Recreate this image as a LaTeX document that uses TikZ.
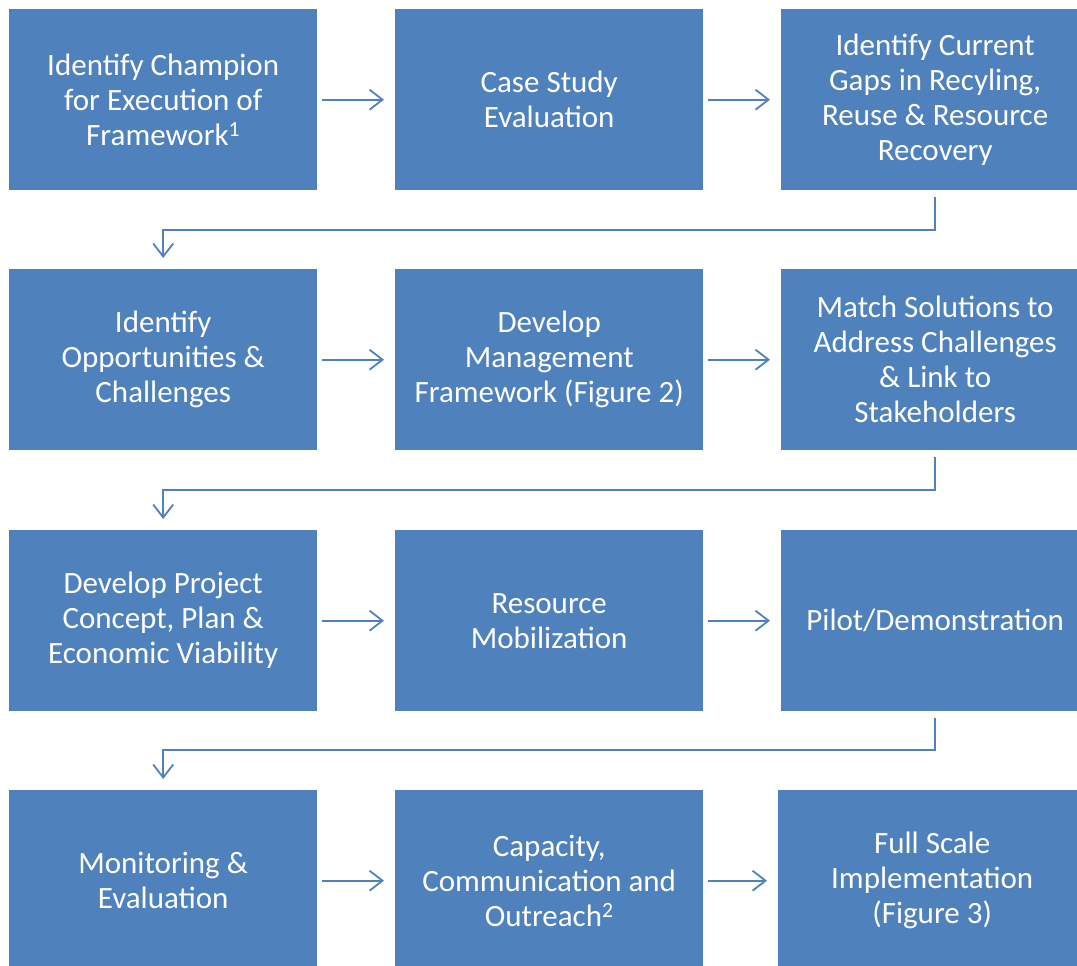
\documentclass[tikz,border=0pt]{standalone}
\usepackage{fontspec}
\setmainfont{Carlito}
\usetikzlibrary{arrows.meta}
\definecolor{boxblue}{HTML}{4F81BD}
\tikzset{
  stepbox/.style={fill=boxblue, draw=none, minimum width=308pt, minimum height=181pt,
    inner sep=0pt, align=center, text=white, font=\fontsize{31}{35}\selectfont, anchor=north west},
  flow/.style={draw=boxblue, line width=1.8pt, -{Straight Barb[length=13pt,width=20pt,line width=1.8pt]}},
}
\begin{document}
\begin{tikzpicture}[x=1pt,y=-1pt]
\useasboundingbox (0,0) rectangle (1077,966);
\clip (0,0) rectangle (1077,966);
% row 1
\node[stepbox] (a1) at (9,9) {Identify Champion\\for Execution of\\Framework\textsuperscript{1}};
\node[stepbox] (a2) at (395,9) {Case Study\\Evaluation};
\node[stepbox] (a3) at (781,9) {Identify Current\\Gaps in Recyling,\\Reuse \& Resource\\Recovery};
% row 2
\node[stepbox] (b1) at (9,269) {Identify\\Opportunities \&\\Challenges};
\node[stepbox] (b2) at (395,269) {Develop\\Management\\Framework (Figure 2)};
\node[stepbox] (b3) at (781,269) {Match Solutions to\\Address Challenges\\\& Link to\\Stakeholders};
% row 3
\node[stepbox] (c1) at (9,530) {Develop Project\\Concept, Plan \&\\Economic Viability};
\node[stepbox] (c2) at (395,530) {Resource\\Mobilization};
\node[stepbox] (c3) at (781,530) {Pilot/Demonstration};
% row 4
\node[stepbox] (d1) at (9,790) {Monitoring \&\\Evaluation};
\node[stepbox] (d2) at (395,790) {Capacity,\\Communication and\\Outreach\textsuperscript{2}};
\node[stepbox] (d3) at (778,790) {Full Scale\\Implementation\\(Figure 3)};
% horizontal arrows
\foreach \l/\r in {a1/a2,a2/a3,b1/b2,b2/b3,c1/c2,c2/c3,d1/d2,d2/d3}{
  \draw[flow, shorten <=5pt, shorten >=11pt] (\l.east) -- (\r.west);
}
% elbow connectors
\coordinate (e1) at (935,230);
\coordinate (e2) at (935,490);
\coordinate (e3) at (935,750);
\draw[flow, shorten <=7pt, shorten >=11pt] (a3.south) |- (e1) -| (b1.north);
\draw[flow, shorten <=7pt, shorten >=11pt] (b3.south) |- (e2) -| (c1.north);
\draw[flow, shorten <=7pt, shorten >=11pt] (c3.south) |- (e3) -| (d1.north);
\end{tikzpicture}
\end{document}
